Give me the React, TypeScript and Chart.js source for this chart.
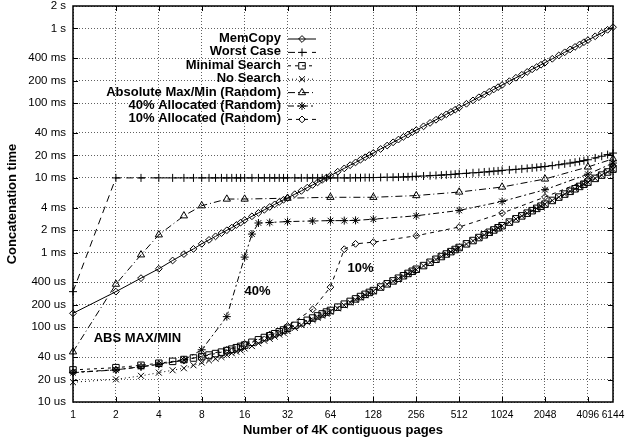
import React, { useEffect, useRef } from 'react';
import { Chart, registerables } from 'chart.js';
import { drawPoint } from 'chart.js/helpers';

Chart.register(...registerables);

// Number of contiguous 4K pages sampled by the dense runs
const PAGES = [
  1, 2, 3, 4, 5, 6, 7, 8, 9, 10, 11, 12, 13, 14, 15, 16,
  18, 20, 22, 24, 26, 28, 30, 32,
  36, 40, 44, 48, 52, 56, 60, 64,
  72, 80, 88, 96, 104, 112, 120, 128,
  144, 160, 176, 192, 208, 224, 240, 256,
  288, 320, 352, 384, 416, 448, 480, 512,
  576, 640, 704, 768, 832, 896, 960, 1024,
  1152, 1280, 1408, 1536, 1664, 1792, 1920, 2048,
  2304, 2560, 2816, 3072, 3328, 3584, 3840, 4096,
  4608, 5120, 5632, 6144,
];

// Concatenation times, in milliseconds
const MEMCOPY_MS = [
  0.154, 0.300, 0.455, 0.607, 0.784, 0.955, 1.12, 1.31, 1.48, 1.65, 1.82, 1.99, 2.16, 2.34, 2.52, 2.72,
  3.06, 3.40, 3.74, 4.08, 4.42, 4.76, 5.10, 5.40,
  6.05, 6.70, 7.40, 8.05, 8.70, 9.40, 10.1, 10.7,
  12.1, 13.4, 14.8, 16.1, 17.5, 18.9, 20.2, 21.6,
  24.4, 27.1, 29.9, 32.6, 35.4, 38.1, 40.9, 43.6,
  49.0, 54.5, 60.0, 65.5, 70.9, 76.4, 81.8, 87.3,
  98.2, 109, 120, 131, 142, 153, 164, 175,
  197, 219, 240, 262, 284, 305, 327, 349,
  393, 436, 480, 524, 567, 611, 655, 698,
  786, 873, 960, 1040,
];

const WORST_MS = [
  0.30, 10, 10, 10, 10, 10, 10, 10, 10, 10, 10, 10, 10, 10, 10, 10,
  10, 10, 10, 10, 10, 10, 10, 10,
  10, 10, 10, 10, 10, 10, 10, 10,
  10, 10, 10, 10.05, 10.05, 10.1, 10.1, 10.1,
  10.15, 10.2, 10.2, 10.25, 10.3, 10.35, 10.4, 10.5,
  10.6, 10.7, 10.8, 10.9, 11.0, 11.1, 11.2, 11.4,
  11.5, 11.7, 11.8, 12.0, 12.1, 12.3, 12.4, 12.6,
  12.8, 13.0, 13.2, 13.4, 13.6, 13.8, 14.0, 14.2,
  14.6, 15.0, 15.4, 15.8, 16.2, 16.6, 17.0, 17.5,
  18.5, 19.5, 20.5, 21.5,
];

const MINIMAL_MS = [
  0.0269, 0.0288, 0.0310, 0.0330, 0.0350, 0.0370, 0.0388, 0.0405, 0.0425, 0.0445, 0.0465, 0.0488, 0.0510, 0.0533, 0.0555, 0.0578,
  0.063, 0.068, 0.073, 0.077, 0.082, 0.087, 0.092, 0.097,
  0.106, 0.115, 0.124, 0.133, 0.142, 0.151, 0.160, 0.168,
  0.186, 0.204, 0.222, 0.240, 0.258, 0.276, 0.293, 0.310,
  0.346, 0.382, 0.418, 0.454, 0.490, 0.526, 0.562, 0.598,
  0.670, 0.742, 0.814, 0.886, 0.958, 1.03, 1.10, 1.17,
  1.31, 1.45, 1.59, 1.73, 1.87, 2.01, 2.15, 2.29,
  2.56, 2.83, 3.10, 3.37, 3.64, 3.91, 4.18, 4.45,
  4.99, 5.53, 6.07, 6.61, 7.15, 7.69, 8.23, 8.77,
  9.85, 10.9, 12.0, 13.1,
];

const NOSEARCH_MS = [
  0.0184, 0.0201, 0.0224, 0.0247, 0.0266, 0.0283, 0.0310, 0.0337, 0.0360, 0.0380, 0.0400, 0.0425, 0.0450, 0.0470, 0.0490, 0.0520,
  0.056, 0.061, 0.066, 0.070, 0.075, 0.080, 0.084, 0.089,
  0.098, 0.107, 0.116, 0.125, 0.134, 0.143, 0.152, 0.161,
  0.179, 0.197, 0.215, 0.233, 0.251, 0.269, 0.287, 0.304,
  0.340, 0.376, 0.412, 0.448, 0.484, 0.520, 0.556, 0.592,
  0.664, 0.736, 0.808, 0.880, 0.952, 1.02, 1.09, 1.16,
  1.30, 1.44, 1.58, 1.72, 1.86, 2.00, 2.14, 2.28,
  2.55, 2.82, 3.09, 3.36, 3.63, 3.90, 4.17, 4.44,
  4.98, 5.52, 6.06, 6.60, 7.14, 7.68, 8.22, 8.76,
  9.84, 10.9, 12.0, 13.0,
];

// Randomised allocation runs are sampled more sparsely
const ABSOLUTE_PAGES = [1, 2, 3, 4, 6, 8, 12, 16, 32, 64, 128, 256, 512, 1024, 2048, 4096, 6144];
const ABSOLUTE_MS = [0.047, 0.378, 0.934, 1.73, 3.11, 4.24, 5.21, 5.21, 5.35, 5.5, 5.5, 5.8, 6.47, 7.55, 9.67, 14.0, 18.0];

const ALLOC40_PAGES = [1, 2, 3, 4, 6, 8, 12, 16, 18, 20, 24, 32, 48, 64, 80, 96, 128, 256, 512, 1024, 2048, 4096, 6144];
const ALLOC40_MS = [0.0247, 0.0269, 0.0297, 0.0319, 0.0366, 0.050, 0.139, 0.87, 1.77, 2.49, 2.53, 2.6, 2.65, 2.68, 2.68, 2.7, 2.8, 3.11, 3.67, 4.84, 6.95, 11.2, 15.8];

const ALLOC10_PAGES = [1, 2, 3, 4, 6, 8, 12, 16, 24, 32, 48, 64, 80, 96, 128, 256, 512, 1024, 2048, 4096, 6144];
const ALLOC10_MS = [0.025, 0.027, 0.0295, 0.032, 0.036, 0.041, 0.050, 0.060, 0.080, 0.104, 0.174, 0.345, 1.11, 1.31, 1.38, 1.68, 2.2, 3.38, 5.54, 9.5, 14.6];

const SERIES_LABELS = [
  'MemCopy',
  'Worst Case',
  'Minimal Search',
  'No Search',
  'Absolute Max/Min (Random)',
  '40% Allocated (Random)',
  '10% Allocated (Random)',
];

const X_TICKS = [1, 2, 4, 8, 16, 32, 64, 128, 256, 512, 1024, 2048, 4096, 6144];
const Y_TICKS_MS = [0.01, 0.02, 0.04, 0.1, 0.2, 0.4, 1, 2, 4, 10, 20, 40, 100, 200, 400, 1000, 2000];
const Y_TICK_LABELS = [
  '10 us', '20 us', '40 us', '100 us', '200 us', '400 us',
  '1 ms', '2 ms', '4 ms', '10 ms', '20 ms', '40 ms',
  '100 ms', '200 ms', '400 ms', '1 s', '2 s',
];

const X_TITLE = 'Number of 4K contiguous pages';
const Y_TITLE = 'Concatenation time';

// In-plot labels, anchored in data coordinates (pages, ms)
const NOTE_TEXT = ['ABS MAX/MIN', '40%', '10%'];
const NOTE_PAGES = [2.83, 19.7, 104];
const NOTE_MS = [0.070, 0.301, 0.621];

const FONT = "'Liberation Sans', Arial, Helvetica, sans-serif";
const INK = '#000';
const GRID = 'rgba(0,0,0,0.62)';

const STYLES = [
  { pointStyle: 'rectRot', radius: 3.4, dash: [] as number[] },
  { pointStyle: 'cross', radius: 4, dash: [7, 5] },
  { pointStyle: 'rect', radius: 4.6, dash: [3, 4] },
  { pointStyle: 'crossRot', radius: 4.2, dash: [1, 3] },
  { pointStyle: 'triangle', radius: 4.2, dash: [7, 3, 1, 3] },
  { pointStyle: 'star', radius: 4, dash: [6, 3, 2, 3] },
  { pointStyle: 'rectRot', radius: 3.4, dash: [4, 4] },
];

// Key placement (gnuplot-style: right-aligned text, sample to its right)
const KEY = { textRight: 281, sampleLeft: 288, sampleRight: 316, firstRow: 38.5, rowStep: 13.4 };

const framePlugin = {
  id: 'frame',
  beforeDatasetsDraw(chart: any) {
    const { ctx, chartArea: a, scales } = chart;
    ctx.save();
    ctx.strokeStyle = INK;
    ctx.lineWidth = 1;
    ctx.setLineDash([]);
    ctx.beginPath();
    const tick = 5;
    X_TICKS.slice(1, -1).forEach((v) => {
      const px = Math.round(scales.x.getPixelForValue(v)) + 0.5;
      ctx.moveTo(px, a.bottom);
      ctx.lineTo(px, a.bottom - tick);
      ctx.moveTo(px, a.top);
      ctx.lineTo(px, a.top + tick);
    });
    Y_TICKS_MS.slice(1, -1).forEach((v) => {
      const py = Math.round(scales.y.getPixelForValue(v)) + 0.5;
      ctx.moveTo(a.left, py);
      ctx.lineTo(a.left + tick, py);
      ctx.moveTo(a.right, py);
      ctx.lineTo(a.right - tick, py);
    });
    ctx.stroke();
    ctx.lineWidth = 1.5;
    ctx.strokeRect(a.left, a.top, a.right - a.left, a.bottom - a.top);
    ctx.restore();
  },
};

const keyPlugin = {
  id: 'key',
  afterDraw(chart: any) {
    const { ctx } = chart;
    ctx.save();
    ctx.font = `bold 13px ${FONT}`;
    ctx.textAlign = 'right';
    ctx.textBaseline = 'middle';
    chart.data.datasets.forEach((ds: any, i: number) => {
      const y = KEY.firstRow + i * KEY.rowStep;
      ctx.fillStyle = INK;
      ctx.fillText(ds.label, KEY.textRight, y);
      ctx.strokeStyle = INK;
      ctx.lineWidth = 1;
      ctx.setLineDash(STYLES[i].dash);
      ctx.beginPath();
      ctx.moveTo(KEY.sampleLeft, y + 0.5);
      ctx.lineTo(KEY.sampleRight, y + 0.5);
      ctx.stroke();
      ctx.setLineDash([]);
      ctx.fillStyle = 'rgba(0,0,0,0)';
      drawPoint(ctx, { pointStyle: STYLES[i].pointStyle, radius: STYLES[i].radius, rotation: 0, borderWidth: 1 } as any,
        (KEY.sampleLeft + KEY.sampleRight) / 2, y + 0.5);
    });
    ctx.restore();
  },
};

const notesPlugin = {
  id: 'notes',
  afterDraw(chart: any) {
    const { ctx, scales } = chart;
    ctx.save();
    ctx.font = `bold 13px ${FONT}`;
    ctx.textAlign = 'center';
    ctx.textBaseline = 'middle';
    ctx.fillStyle = INK;
    NOTE_TEXT.forEach((t, i) => {
      ctx.fillText(t, scales.x.getPixelForValue(NOTE_PAGES[i]), scales.y.getPixelForValue(NOTE_MS[i]));
    });
    ctx.restore();
  },
};

export default function App() {
  const ref = useRef<HTMLCanvasElement>(null);

  useEffect(() => {
    const canvas = ref.current;
    if (!canvas) return;
    const series = [
      { x: PAGES, y: MEMCOPY_MS },
      { x: PAGES, y: WORST_MS },
      { x: PAGES, y: MINIMAL_MS },
      { x: PAGES, y: NOSEARCH_MS },
      { x: ABSOLUTE_PAGES, y: ABSOLUTE_MS },
      { x: ALLOC40_PAGES, y: ALLOC40_MS },
      { x: ALLOC10_PAGES, y: ALLOC10_MS },
    ];
    const chart = new Chart(canvas, {
      type: 'scatter',
      data: {
        datasets: series.map((s, i) => ({
          label: SERIES_LABELS[i],
          data: s.x.map((x, j) => ({ x, y: s.y[j] })),
          showLine: true,
          borderColor: INK,
          borderWidth: 1,
          borderDash: STYLES[i].dash,
          pointStyle: STYLES[i].pointStyle as any,
          pointRadius: STYLES[i].radius,
          pointBorderColor: INK,
          pointBackgroundColor: 'rgba(0,0,0,0)',
          pointBorderWidth: 1,
          tension: 0,
          clip: false as any,
        })),
      },
      options: {
        responsive: false,
        animation: false,
        events: [],
        layout: { padding: { top: 6, right: 21, bottom: 0, left: 0 } },
        plugins: { legend: { display: false }, tooltip: { enabled: false } },
        scales: {
          x: {
            type: 'logarithmic',
            min: 1,
            max: 6144,
            afterBuildTicks: (sc: any) => { sc.ticks = X_TICKS.map((v) => ({ value: v })); },
            afterFit: (sc: any) => {
              sc.height = 42;
              sc.paddingLeft = 0;
              sc.paddingRight = 0;
            },
            ticks: {
              autoSkip: false,
              maxRotation: 0,
              padding: 8.5,
              color: INK,
              font: { family: FONT, size: 10.2, lineHeight: 1 },
              callback: (v: any) => String(v),
            },
            grid: { color: GRID, lineWidth: 1, drawTicks: false },
            border: { display: false, dash: [1, 2] },
            title: {
              display: true,
              text: X_TITLE,
              color: INK,
              font: { family: FONT, size: 13, weight: 'bold' },
              padding: { top: 0, bottom: 5.7 },
            },
          },
          y: {
            type: 'logarithmic',
            min: 0.01,
            max: 2000,
            afterBuildTicks: (sc: any) => { sc.ticks = Y_TICKS_MS.map((v) => ({ value: v })); },
            afterFit: (sc: any) => {
              sc.width = 73;
              sc.paddingTop = 0;
              sc.paddingBottom = 0;
            },
            ticks: {
              autoSkip: false,
              padding: 7,
              color: INK,
              font: { family: FONT, size: 11.5, lineHeight: 1 },
              callback: (_v: any, i: number) => Y_TICK_LABELS[i],
            },
            grid: { color: GRID, lineWidth: 1, drawTicks: false },
            border: { display: false, dash: [1, 2] },
            title: {
              display: true,
              text: Y_TITLE,
              color: INK,
              font: { family: FONT, size: 13, weight: 'bold' },
              padding: { top: 5, bottom: 0 },
            },
          },
        },
      } as any,
      plugins: [framePlugin, keyPlugin, notesPlugin],
    });
    return () => chart.destroy();
  }, []);

  return (
    <div style={{ position: 'fixed', left: 0, top: 0, width: 634, height: 444, background: '#fff' }}>
      <canvas ref={ref} width={634} height={444} style={{ display: 'block' }} />
    </div>
  );
}
